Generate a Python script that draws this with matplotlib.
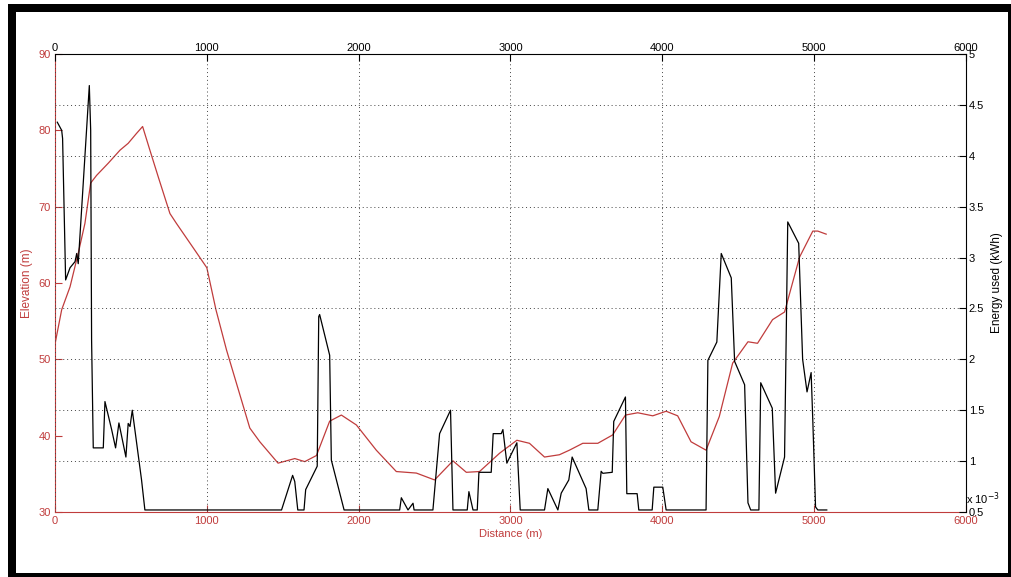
import matplotlib.pyplot as plt
from matplotlib.patches import Rectangle

#%% Data
# elevation profile (red, left axis)
elev_dist = [0, 44, 99, 153, 197, 235, 274, 351, 428, 482, 537, 577, 625, 680, 757,
             800, 921, 1000, 1060, 1130, 1205, 1283, 1349, 1469, 1579, 1645, 1722, 1809,
             1886, 1985, 2116, 2248, 2380, 2500, 2621, 2709, 2796, 2928, 3042, 3125, 3224,
             3322, 3388, 3476, 3575, 3673, 3757, 3838, 3937, 4025, 4101, 4189, 4288, 4375,
             4463, 4564, 4627, 4726, 4805, 4904, 4991, 5024, 5079]
elev = [52.0, 56.5, 59.5, 63.9, 67.8, 73.1, 74.1, 75.7, 77.4, 78.3, 79.6, 80.5, 77.4, 73.9, 69.1,
        67.8, 64.3, 62.0, 56.5, 51.2, 46.2, 41.0, 39.2, 36.4, 37.0, 36.6, 37.4, 41.9,
        42.7, 41.4, 38.1, 35.3, 35.1, 34.2, 36.7, 35.2, 35.3, 37.7, 39.4, 39.0, 37.2,
        37.5, 38.1, 39.0, 39.0, 40.1, 42.7, 43.0, 42.6, 43.2, 42.6, 39.2, 38.1, 42.5,
        49.5, 52.3, 52.1, 55.2, 56.2, 63.4, 66.8, 66.8, 66.4]

# energy used (black, right axis, x 10^-3 kWh)
en_dist = [15, 44, 50, 70, 99, 132, 143, 153, 226, 235, 241, 252, 318, 329, 373, 399, 421,
           467, 482, 494, 509, 570, 592, 1492, 1565, 1579, 1599, 1640, 1651, 1727, 1737,
           1743, 1809, 1820, 1904, 2270, 2281, 2325, 2358, 2365, 2489, 2533, 2605, 2621,
           2715, 2726, 2753, 2781, 2792, 2873, 2886, 2939, 2950, 2976, 3042, 3064, 3224,
           3246, 3312, 3334, 3384, 3406, 3498, 3516, 3575, 3597, 3608, 3670, 3680, 3757,
           3766, 3834, 3845, 3933, 3944, 4003, 4025, 4288, 4300, 4359, 4388, 4454, 4476,
           4542, 4564, 4582, 4636, 4648, 4724, 4746, 4805, 4826, 4898, 4924, 4953, 4980,
           4991, 5009, 5024, 5083]
energy = [4.33, 4.25, 4.17, 2.78, 2.90, 2.96, 3.04, 2.94, 4.69, 4.25, 2.19, 1.13, 1.13, 1.585,
          1.31, 1.13, 1.375, 1.04, 1.37, 1.34, 1.50, 0.815, 0.52, 0.52, 0.86, 0.80, 0.52,
          0.52, 0.72, 0.95, 2.42, 2.44, 2.04, 1.01, 0.52, 0.52, 0.64, 0.52, 0.586, 0.52,
          0.52, 1.27, 1.50, 0.52, 0.52, 0.70, 0.52, 0.52, 0.89, 0.89, 1.27, 1.27, 1.31,
          0.98, 1.18, 0.52, 0.52, 0.73, 0.52, 0.685, 0.815, 1.04, 0.73, 0.52, 0.52, 0.90,
          0.88, 0.89, 1.39, 1.63, 0.68, 0.68, 0.52, 0.52, 0.744, 0.744, 0.52, 0.52, 1.99,
          2.17, 3.04, 2.80, 1.98, 1.75, 0.59, 0.52, 0.52, 1.77, 1.52, 0.685, 1.04, 3.35,
          3.14, 2.0, 1.68, 1.87, 1.40, 0.55, 0.52, 0.52]

x_ticks = [0, 1000, 2000, 3000, 4000, 5000, 6000]
elev_ticks = [30, 40, 50, 60, 70, 80, 90]
energy_ticks = [0.5, 1, 1.5, 2, 2.5, 3, 3.5, 4, 4.5, 5]

#%% Style
plt.rcParams['font.family'] = ['Liberation Sans', 'DejaVu Sans']
red = '#c03c3c'
W, H = 1012, 577

fig = plt.figure(figsize=(W / 100, H / 100), dpi=100)
# black picture frame
fig.patches.append(Rectangle((8 / W, 0), 1004 / W, 573 / H, transform=fig.transFigure,
                             facecolor='black', edgecolor='none', zorder=-2))
fig.patches.append(Rectangle((16 / W, 4 / H), 992 / W, 561 / H, transform=fig.transFigure,
                             facecolor='white', edgecolor='none', zorder=-1))

ax1 = fig.add_axes([55 / W, (H - 512) / H, 911 / W, 458 / H])
ax1.patch.set_alpha(0)
ax1.plot(elev_dist, elev, color=red, lw=0.9)
ax1.set_xlim(0, 6000)
ax1.set_ylim(30, 90)
ax1.set_xticks(x_ticks)
ax1.set_yticks(elev_ticks)
ax1.tick_params(direction='in', length=5, width=0.8, labelsize=8, colors=red, pad=3)
ax1.set_xlabel('Distance (m)', color=red, fontsize=8, labelpad=2)
ax1.set_ylabel('Elevation (m)', color=red, fontsize=8.5, labelpad=4)
for s in ['left', 'bottom']:
    ax1.spines[s].set_color(red)
for s in ['top', 'right']:
    ax1.spines[s].set_visible(False)

ax2 = ax1.twinx()
ax2.xaxis.set_visible(True)
ax2.plot(en_dist, energy, color='black', lw=0.9)
ax2.set_ylim(0.5, 5)
ax2.set_yticks(energy_ticks)
ax2.set_yticklabels(['0.5', '1', '1.5', '2', '2.5', '3', '3.5', '4', '4.5', '5'])
ax2.tick_params(axis='y', direction='in', length=5, width=0.8, labelsize=8, pad=2)
ax2.tick_params(axis='x', direction='in', length=5, width=0.8, labelsize=8,
                top=True, labeltop=True, bottom=False, labelbottom=False, pad=1)
ax2.set_xticks(x_ticks)
ax2.set_ylabel('Energy used (kWh)', fontsize=8.5, labelpad=5)
ax2.grid(True, linestyle=(0, (1, 3)), color='#444444', lw=0.7)
for s in ['left', 'bottom']:
    ax2.spines[s].set_visible(False)
ax2.text(1.0, 0.012, r'x 10$^{-3}$', transform=ax2.transAxes, fontsize=8,
         ha='left', va='bottom')

fig.savefig('out.png', dpi=100)
